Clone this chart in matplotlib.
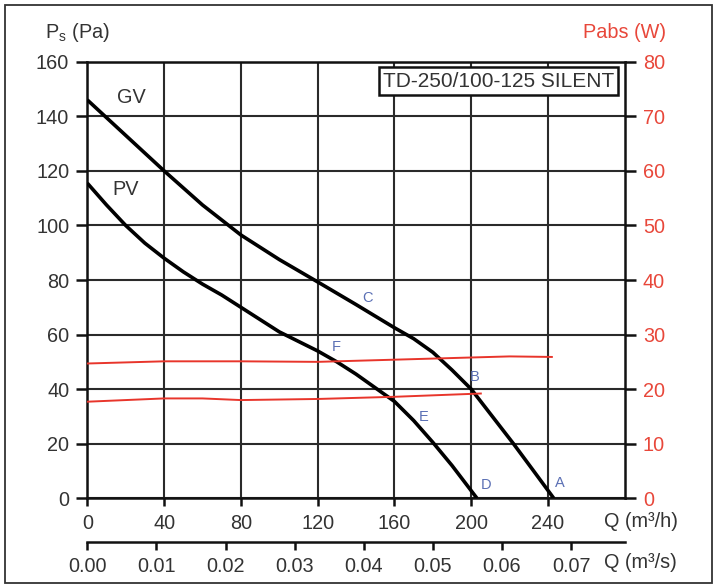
import matplotlib
matplotlib.use("Agg")
import matplotlib.pyplot as plt
from matplotlib.patches import Rectangle

plt.rcParams['font.family'] = ['Liberation Sans', 'DejaVu Sans']
plt.rcParams['mathtext.fontset'] = 'custom'
plt.rcParams['mathtext.rm'] = 'Liberation Sans'
plt.rcParams['mathtext.it'] = 'Liberation Sans'

# ---- data ----
q_gv = [0, 20, 40, 60, 80, 100, 120, 140, 160, 170, 180, 190, 200, 211, 222, 232, 243]
ps_gv = [146, 133, 120, 107.5, 96.5, 87.5, 79.3, 71, 62.5, 58.5, 53.5, 47, 40, 30, 20, 10.5, 0]

q_pv = [0, 10, 20, 30, 40, 50, 60, 70, 80, 90, 100, 110, 120, 130, 140, 150, 160, 170, 180, 190, 203]
ps_pv = [115.5, 107.5, 100, 93.5, 88, 83, 78.5, 74.5, 70, 65.5, 61, 57.5, 54, 50, 45.5, 40.5, 35.5, 28.5, 20.5, 12, 0]

q_pabs_gv = [0, 20, 40, 80, 120, 160, 200, 220, 242]
pabs_gv = [24.7, 24.9, 25.1, 25.1, 25.0, 25.4, 25.8, 26.0, 25.9]

q_pabs_pv = [0, 20, 40, 60, 80, 120, 160, 190, 205]
pabs_pv = [17.7, 18.0, 18.3, 18.3, 18.0, 18.2, 18.6, 19.0, 19.2]

x_ticks = [0, 40, 80, 120, 160, 200, 240]
y_ticks = [0, 20, 40, 60, 80, 100, 120, 140, 160]
y2_ticks = [0, 10, 20, 30, 40, 50, 60, 70, 80]
qs_ticks = [0.00, 0.01, 0.02, 0.03, 0.04, 0.05, 0.06, 0.07]

point_labels = ['C', 'F', 'B', 'E', 'D', 'A']
point_q = [145.8, 129.6, 201.8, 175.3, 207.5, 246.0]
point_ps = [73.3, 55.6, 44.6, 29.9, 4.9, 5.5]

RED = '#e8473a'
REDLINE = '#e8352b'
BLUE = '#5a6fb4'
GRID = '#2a2a2a'
TXT = '#333333'
FS = 14.3

W, H = 714, 587
fig = plt.figure(figsize=(W / 100, H / 100), dpi=100)

# outer frame
fig.patches.append(Rectangle((5 / W, 4 / H), 707 / W, 578 / H, transform=fig.transFigure,
                             fill=False, edgecolor='#333333', linewidth=1.3))

left, right = 87.3 / W, 624.8 / W
bottom, top = 1 - 498.3 / H, 1 - 61.7 / H
ax = fig.add_axes([left, bottom, right - left, top - bottom])
ax.set_xlim(0, 280)
ax.set_ylim(0, 160)
ax.set_xticks(x_ticks)
ax.set_yticks(y_ticks)
ax.set_xticklabels([str(v) for v in x_ticks])
ax.set_yticklabels([str(v) for v in y_ticks])
ax.grid(True, color=GRID, linewidth=1.5)
ax.set_axisbelow(True)
for s in ax.spines.values():
    s.set_linewidth(1.8)
    s.set_color('#111111')
ax.tick_params(axis='x', direction='out', length=6, width=1.8, pad=5, labelsize=FS, colors='#111111', labelcolor=TXT)
ax.tick_params(axis='y', direction='out', length=8, width=1.8, pad=5, labelsize=FS, colors='#111111', labelcolor=TXT)

ax.plot(q_gv, ps_gv, color='black', linewidth=2.6, solid_capstyle='butt', solid_joinstyle='round', zorder=4)
ax.plot(q_pv, ps_pv, color='black', linewidth=2.6, solid_capstyle='butt', solid_joinstyle='round', zorder=4)

ax.text(23.1, 146.7, 'GV', fontsize=FS, color=TXT, ha='center', va='center')
ax.text(20.0, 113.2, 'PV', fontsize=FS, color=TXT, ha='center', va='center')
for lab, qx, py in zip(point_labels, point_q, point_ps):
    ax.text(qx, py, lab, fontsize=10.5, color=BLUE, ha='center', va='center', zorder=5)

ax.text(214.2, 152.9, 'TD-250/100-125 SILENT', fontsize=15, color=TXT, ha='center', va='center',
        zorder=6, bbox=dict(boxstyle='square,pad=0.2', facecolor='white', edgecolor='#111111', linewidth=1.8))

# right axis (power)
ax2 = ax.twinx()
ax2.set_ylim(0, 80)
ax2.set_yticks(y2_ticks)
ax2.set_yticklabels([str(v) for v in y2_ticks])
ax2.tick_params(axis='y', direction='out', length=8, width=1.8, pad=5, labelsize=FS, colors='#111111', labelcolor=RED)
for s in ax2.spines.values():
    s.set_visible(False)
ax2.plot(q_pabs_gv, pabs_gv, color=REDLINE, linewidth=1.4, zorder=3)
ax2.plot(q_pabs_pv, pabs_pv, color=REDLINE, linewidth=1.4, zorder=3)

# axis titles
fig.text(45 / W, 1 - 32 / H, 'P$_{\\mathrm{s}}$ (Pa)', fontsize=FS, color=TXT, ha='left', va='center')
fig.text(666 / W, 1 - 32.5 / H, 'Pabs (W)', fontsize=FS, color=RED, ha='right', va='center')
fig.text(604 / W, 1 - 521.7 / H, 'Q (m³/h)', fontsize=FS, color=TXT, ha='left', va='center')
fig.text(604 / W, 1 - 563 / H, 'Q (m³/s)', fontsize=FS, color=TXT, ha='left', va='center')

# secondary flow axis in m3/s
ax3 = fig.add_axes([left, 1 - 541.7 / H, right - left, 0.0001])
ax3.set_xlim(0, 280 / 3600)
ax3.set_ylim(0, 1)
ax3.set_yticks([])
ax3.set_xticks(qs_ticks)
ax3.set_xticklabels(['%.2f' % v for v in qs_ticks])
for k in ['top', 'left', 'right']:
    ax3.spines[k].set_visible(False)
ax3.spines['bottom'].set_linewidth(1.8)
ax3.spines['bottom'].set_color('#111111')
ax3.patch.set_visible(False)
ax3.tick_params(axis='x', direction='out', length=6, width=1.8, pad=5, labelsize=FS, colors='#111111', labelcolor=TXT)

fig.savefig('out.png', dpi=100)
